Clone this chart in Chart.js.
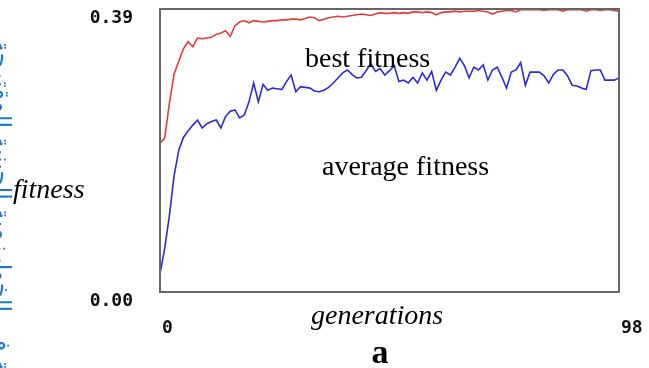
<!DOCTYPE html>
<html>
<head>
<meta charset="utf-8">
<script src="https://cdn.jsdelivr.net/npm/chart.js@4/dist/chart.umd.min.js"></script>
<style>
    html, body { margin: 0; padding: 0; background: #fff; overflow: hidden; }
    #wrap { position: relative; width: 649px; height: 368px; }
</style>
</head>
<body>
<div id="wrap"><canvas id="fitnessChart" width="649" height="368"></canvas></div>
<script>
// Best fitness per generation (red)
const bestFitness = [
    0.205, 0.212, 0.260, 0.300, 0.318, 0.335, 0.345, 0.338, 0.350, 0.349,
    0.350, 0.351, 0.355, 0.357, 0.360, 0.352, 0.367, 0.372, 0.374, 0.371,
    0.374, 0.373, 0.372, 0.373, 0.374, 0.374, 0.375, 0.375, 0.376, 0.376,
    0.375, 0.377, 0.379, 0.378, 0.374, 0.376, 0.378, 0.379, 0.380, 0.379,
    0.380, 0.381, 0.382, 0.383, 0.382, 0.381, 0.383, 0.385, 0.384, 0.384,
    0.385, 0.384, 0.385, 0.384, 0.386, 0.386, 0.385, 0.386, 0.385, 0.382,
    0.385, 0.386, 0.386, 0.387, 0.386, 0.387, 0.387, 0.387, 0.388, 0.387,
    0.386, 0.383, 0.386, 0.387, 0.388, 0.388, 0.386, 0.389, 0.389, 0.389,
    0.389, 0.389, 0.388, 0.389, 0.389, 0.389, 0.387, 0.389, 0.389, 0.389,
    0.389, 0.387, 0.389, 0.389, 0.388, 0.389, 0.389, 0.388, 0.387
];

// Average fitness per generation (blue)
const averageFitness = [
    0.025, 0.060, 0.105, 0.160, 0.195, 0.213, 0.222, 0.230, 0.237, 0.226,
    0.232, 0.235, 0.237, 0.226, 0.242, 0.249, 0.251, 0.240, 0.244, 0.262,
    0.288, 0.262, 0.286, 0.278, 0.281, 0.280, 0.279, 0.290, 0.299, 0.276,
    0.283, 0.282, 0.281, 0.277, 0.276, 0.278, 0.282, 0.288, 0.295, 0.302,
    0.306, 0.300, 0.295, 0.296, 0.305, 0.315, 0.304, 0.308, 0.299, 0.305,
    0.312, 0.290, 0.292, 0.288, 0.296, 0.288, 0.302, 0.292, 0.304, 0.278,
    0.292, 0.303, 0.299, 0.310, 0.322, 0.312, 0.295, 0.310, 0.306, 0.313,
    0.292, 0.306, 0.310, 0.296, 0.281, 0.303, 0.306, 0.316, 0.285, 0.303,
    0.303, 0.303, 0.298, 0.288, 0.300, 0.306, 0.306, 0.298, 0.285, 0.284,
    0.281, 0.279, 0.305, 0.306, 0.306, 0.292, 0.292, 0.292, 0.295
];

const generations = bestFitness.map((_, i) => i);
const xTicks = [0, 98];
const yTicks = [0, 0.39];

// Free text placed on the figure: [text, x, y, font, colour, align]
const annotations = [
    ['best fitness', 305, 67, '28px "Liberation Serif"', '#000', 'left'],
    ['average fitness', 322, 175, '28px "Liberation Serif"', '#000', 'left'],
    ['fitness', 13, 198, 'italic 28px "Liberation Serif"', '#000', 'left'],
    ['generations', 311, 324, 'italic 28px "Liberation Serif"', '#000', 'left'],
    ['a', 380, 363, 'bold 34px "Liberation Serif"', '#000', 'center']
];
const sideText = 'الشكل التوضيحي لدالة اللياقة في الخوارزمية الجينية المقترحة';

const figurePlugin = {
    id: 'figureText',
    afterDraw(chart) {
        const ctx = chart.ctx;
        const area = chart.chartArea;
        ctx.save();
        // plot frame
        ctx.strokeStyle = '#666';
        ctx.lineWidth = 2;
        ctx.strokeRect(area.left, area.top, area.right - area.left, area.bottom - area.top);
        // labels
        ctx.textBaseline = 'alphabetic';
        annotations.forEach(([text, x, y, font, color, align]) => {
            ctx.font = font;
            ctx.fillStyle = color;
            ctx.textAlign = align;
            ctx.fillText(text, x, y);
        });
        // clipped sidebar text from the scanned page
        ctx.translate(-6, 40);
        ctx.rotate(Math.PI / 2);
        ctx.font = '24px "DejaVu Sans"';
        ctx.fillStyle = '#1f78c8';
        ctx.textAlign = 'left';
        ctx.direction = 'rtl';
        ctx.fillText(sideText, 0, 0);
        ctx.restore();
    }
};

function noPadding(scale) {
    scale.paddingTop = 0;
    scale.paddingBottom = 0;
    scale.paddingLeft = 0;
    scale.paddingRight = 0;
}

const tickFont = { family: '"DejaVu Sans Mono"', size: 18, weight: 'bold' };

new Chart(document.getElementById('fitnessChart'), {
    type: 'line',
    data: {
        labels: generations,
        datasets: [
            {
                label: 'best fitness',
                data: bestFitness,
                borderColor: '#e53b3b',
                borderWidth: 1.6,
                pointRadius: 0,
                tension: 0,
                fill: false
            },
            {
                label: 'average fitness',
                data: averageFitness,
                borderColor: '#2a2ade',
                borderWidth: 1.6,
                pointRadius: 0,
                tension: 0,
                fill: false
            }
        ]
    },
    options: {
        responsive: false,
        animation: false,
        layout: { padding: { top: 9, right: 30, left: 0, bottom: 0 } },
        plugins: {
            legend: { display: false },
            tooltip: { enabled: false }
        },
        scales: {
            x: {
                type: 'linear',
                min: 0,
                max: 98,
                afterBuildTicks: scale => { scale.ticks = xTicks.map(v => ({ value: v })); },
                afterFit: scale => { scale.height = 76; noPadding(scale); },
                grid: { display: false, drawTicks: false },
                border: { display: false },
                ticks: {
                    align: 'start',
                    labelOffset: 2,
                    padding: 26,
                    maxRotation: 0,
                    color: '#111',
                    font: tickFont,
                    callback: v => String(v)
                }
            },
            y: {
                min: 0,
                max: 0.39,
                afterBuildTicks: scale => { scale.ticks = yTicks.map(v => ({ value: v })); },
                afterFit: scale => { scale.width = 160; noPadding(scale); },
                grid: { display: false, drawTicks: false },
                border: { display: false },
                ticks: {
                    labelOffset: 9,
                    padding: 27,
                    color: '#111',
                    font: tickFont,
                    callback: v => v.toFixed(2)
                }
            }
        }
    },
    plugins: [figurePlugin]
});
</script>
</body>
</html>
